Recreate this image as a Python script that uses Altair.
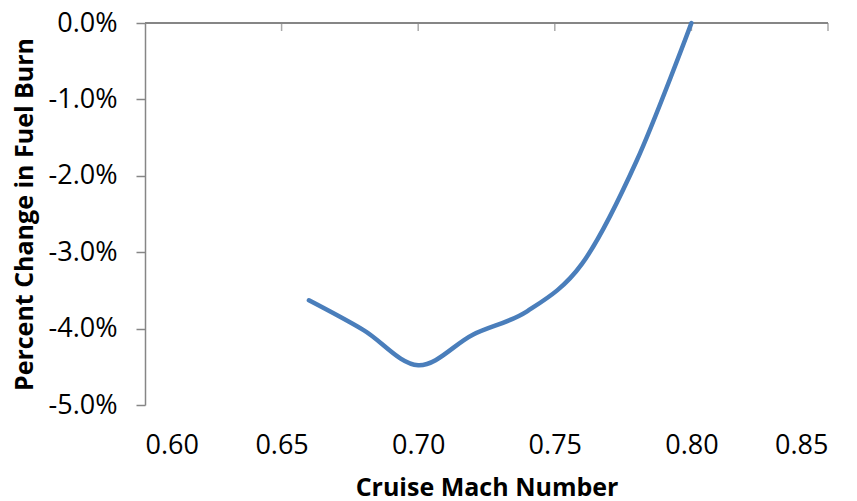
import altair as alt
import pandas as pd

mach = [0.66, 0.68, 0.70, 0.72, 0.74, 0.76, 0.78, 0.80]
fuel_change = [-0.0363, -0.0402, -0.0448, -0.0408, -0.0377, -0.0315, -0.0180, 0.0]
x_ticks = [0.60, 0.65, 0.70, 0.75, 0.80, 0.85]
y_ticks = [0.0, -0.01, -0.02, -0.03, -0.04, -0.05]

df = pd.DataFrame({"mach": mach, "fuel": fuel_change})
ticks_df = pd.DataFrame({"t": x_ticks[1:]})

FONT = "Open Sans"
AXIS_COLOR = "#868686"

xscale = alt.Scale(domain=[0.60, 0.85], nice=False, zero=False)
yscale = alt.Scale(domain=[-0.05, 0.0], nice=False, zero=False)

line = alt.Chart(df).mark_line(
    interpolate="cardinal", color="#4A7EBB", strokeWidth=4.5, strokeCap="round"
).encode(
    x=alt.X("mach:Q", scale=xscale, axis=alt.Axis(
        values=x_ticks, format=".2f", domain=False, ticks=False, tickSize=0,
        grid=False, labelPadding=27, labelFontSize=27, labelFont=FONT, labelColor="black",
        title="Cruise Mach Number", titleFont=FONT, titleFontSize=25, titleFontWeight="bold",
        titleColor="black", titlePadding=17)),
    y=alt.Y("fuel:Q", scale=yscale, axis=alt.Axis(
        values=y_ticks, labelExpr="(datum.value < 0 ? '-' : '') + format(abs(datum.value), '.1%')",
        domain=True, domainColor=AXIS_COLOR, domainWidth=1.5, ticks=True, tickSize=9,
        tickColor=AXIS_COLOR, tickWidth=1.5, grid=False, labelPadding=19, labelFontSize=27,
        labelFont=FONT, labelColor="black",
        title="Percent Change in Fuel Burn", titleFont=FONT, titleFontSize=25,
        titleFontWeight="bold", titleColor="black",
        titleX=-121, titleY=191, titleAlign="center", titleBaseline="middle", titleAngle=270)),
)

top_line = alt.Chart(df).mark_rule(color=AXIS_COLOR, strokeWidth=1.5).encode(
    y=alt.datum(0.0, scale=yscale)
)

top_ticks = alt.Chart(ticks_df).mark_tick(
    orient="vertical", size=8, thickness=1.5, yOffset=4, color=AXIS_COLOR
).encode(
    x=alt.X("t:Q", scale=xscale),
    y=alt.datum(0.0, scale=yscale),
)

chart = alt.layer(top_line, top_ticks, line).properties(
    width=683, height=382,
    autosize=alt.AutoSizeParams(type="none"),
    padding={"left": 137, "top": 15, "right": 15, "bottom": 100},
).configure_view(stroke=None)

chart.save("out.html", embed_options={"renderer": "svg", "actions": False})
